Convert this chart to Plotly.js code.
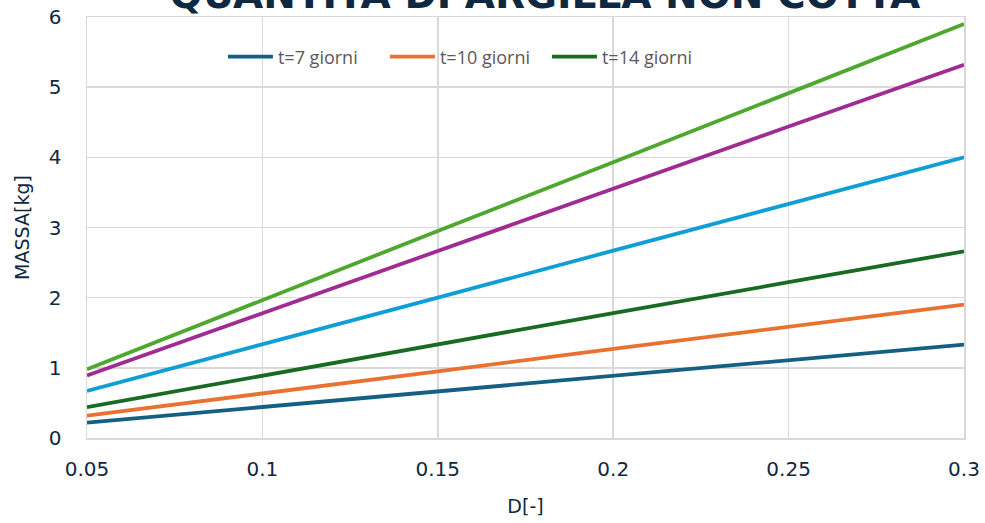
<!DOCTYPE html>
<html>
<head>
<meta charset="utf-8">
<script src="https://cdn.plot.ly/plotly-3.0.1.min.js"></script>
<style>html,body{margin:0;padding:0;background:#fff;}#chart{width:985px;height:523px;}</style>
</head>
<body>
<div id="chart"></div>
<script>
// Diameter values D[-]
const D = [0.05, 0.10, 0.15, 0.20, 0.25, 0.30];
// Mass values MASSA[kg]
const massT7  = [0.22, 0.44, 0.67, 0.89, 1.11, 1.33];
const massT10 = [0.32, 0.63, 0.95, 1.27, 1.58, 1.90];
const massT14 = [0.44, 0.89, 1.33, 1.78, 2.22, 2.66];
const massS4  = [0.67, 1.33, 2.00, 2.67, 3.33, 4.00];
const massS5  = [0.89, 1.78, 2.66, 3.55, 4.44, 5.32];
const massS6  = [0.98, 1.97, 2.95, 3.93, 4.92, 5.90];
const seriesNames = ['t=7 giorni', 't=10 giorni', 't=14 giorni', '', '', ''];
const seriesValues = [massT7, massT10, massT14, massS4, massS5, massS6];
const seriesColors = ['#156082', '#E97132', '#196B24', '#0F9ED5', '#A02B93', '#4EA72E'];
const chartTitle = 'QUANTITÀ DI ARGILLA NON COTTA';

const traces = seriesValues.map((vals, i) => ({
  x: D, y: vals, type: 'scatter', mode: 'lines',
  name: seriesNames[i], showlegend: i < 3,
  line: {color: seriesColors[i], width: 3.8}
}));

const tickFont = {family: 'DejaVu Sans, sans-serif', size: 20, color: '#0E2841'};
const layout = {
  width: 985, height: 523,
  margin: {l: 87, r: 21, t: 17, b: 85},
  paper_bgcolor: '#fff', plot_bgcolor: '#fff',
  title: {
    text: chartTitle,
    font: {family: 'DejaVu Sans', size: 39, weight: 'bold', color: '#0E2841'},
    xref: 'paper', x: 0.522, xanchor: 'center',
    yref: 'paper', y: 1, yanchor: 'bottom', pad: {b: 9}
  },
  xaxis: {
    range: [0.05, 0.3], tick0: 0.05, dtick: 0.05,
    showgrid: true, gridcolor: '#D9D9D9', gridwidth: 1.5,
    showline: true, linecolor: '#D9D9D9', linewidth: 1.5, mirror: true,
    zeroline: false, ticks: '', tickfont: tickFont, ticklabelstandoff: 12,
    title: {text: 'D[-]', font: {family: 'DejaVu Sans, sans-serif', size: 19, color: '#0E2841'}, standoff: 20}
  },
  yaxis: {
    range: [0, 6], dtick: 1,
    showgrid: true, gridcolor: '#D9D9D9', gridwidth: 1.5,
    showline: true, linecolor: '#D9D9D9', linewidth: 1.5, mirror: true,
    zeroline: false, ticks: '', tickfont: tickFont, ticklabelstandoff: 20,
    title: {text: 'MASSA[kg]', font: {family: 'DejaVu Sans, sans-serif', size: 19, color: '#0E2841'}, standoff: 14}
  },
  legend: {
    orientation: 'h', x: 0.155, xanchor: 'left', y: 0.905, yanchor: 'middle',
    bgcolor: 'rgba(0,0,0,0)', font: {family: 'Open Sans', size: 18, color: '#595959'},
    itemwidth: 45, entrywidth: 102, entrywidthmode: 'pixels'
  },
  showlegend: true
};

Plotly.newPlot('chart', traces, layout, {displayModeBar: false, staticPlot: true});
</script>
</body>
</html>
